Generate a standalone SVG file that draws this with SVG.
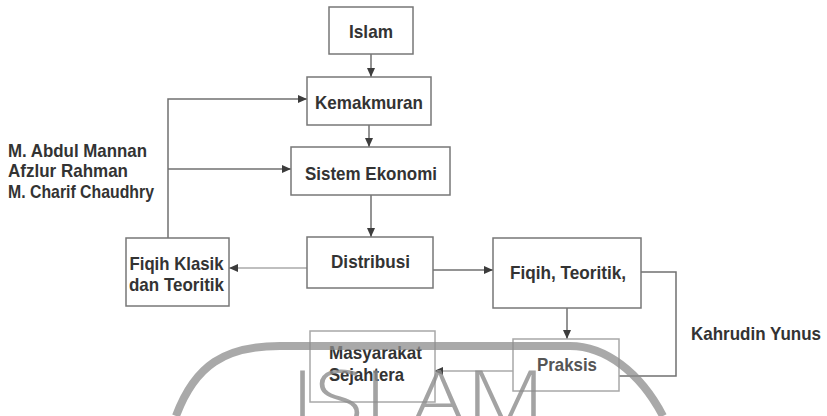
<svg xmlns="http://www.w3.org/2000/svg" width="827" height="416" viewBox="0 0 827 416">
  <defs>
    <style>
      .box { fill: #ffffff; stroke: #777777; stroke-width: 1.5; }
      .box-light { fill: #ffffff; stroke: #a8a8a8; stroke-width: 1.5; }
      .lbl { font-family: "Liberation Sans Narrow", "Arial Narrow", "Liberation Sans", Arial, sans-serif; font-weight: bold; font-size: 19px; fill: #333333; }
      .lbl-light { fill: #555555; }
      .conn { fill: none; stroke: #707070; stroke-width: 1.5; }
      .conn-light { fill: none; stroke: #aaaaaa; stroke-width: 1.5; }
      .wm { fill: none; stroke: #8c8c8c; stroke-width: 8; stroke-opacity: 0.75; }
      .wm-text { font-family: "Open Sans", "Lato", "Liberation Sans", sans-serif; font-weight: 300; font-size: 80px; fill: #8c8c8c; fill-opacity: 0.8; }
    </style>
    <marker id="arrow" markerUnits="userSpaceOnUse" markerWidth="9" markerHeight="8" refX="9" refY="4" orient="auto">
      <path d="M0,0 L9,4 L0,8 z" fill="#3c3c3c"/>
    </marker>
  </defs>

  <rect width="827" height="416" fill="#ffffff"/>

  <g id="connectors">
    <line class="conn" x1="371" y1="54" x2="371" y2="77" marker-end="url(#arrow)"/>
    <line class="conn" x1="369" y1="125" x2="369" y2="147" marker-end="url(#arrow)"/>
    <line class="conn" x1="371" y1="195" x2="371" y2="237" marker-end="url(#arrow)"/>
    <line class="conn-light" x1="307" y1="268" x2="229" y2="268" marker-end="url(#arrow)"/>
    <line class="conn" x1="433" y1="270" x2="493" y2="270" marker-end="url(#arrow)"/>
    <polyline class="conn" points="168,238 168,99 307,99" marker-end="url(#arrow)"/>
    <line class="conn" x1="168" y1="169" x2="291" y2="169" marker-end="url(#arrow)"/>
    <line class="conn" x1="567" y1="308" x2="567" y2="339" marker-end="url(#arrow)"/>
    <polyline class="conn" points="641,272 676,272 676,376 619,376"/>
    <line class="conn-light" x1="513" y1="371" x2="434" y2="371" marker-end="url(#arrow)"/>
  </g>

  <g id="node-islam">
    <rect class="box" x="329" y="7" width="84" height="47"/>
    <text class="lbl" x="371" y="38" text-anchor="middle" textLength="44" lengthAdjust="spacingAndGlyphs">Islam</text>
  </g>
  <g id="node-kemakmuran">
    <rect class="box" x="307" y="77" width="124" height="48"/>
    <text class="lbl" x="369" y="109" text-anchor="middle" textLength="108" lengthAdjust="spacingAndGlyphs">Kemakmuran</text>
  </g>
  <g id="node-sistem-ekonomi">
    <rect class="box" x="291" y="147" width="159" height="48"/>
    <text class="lbl" x="371" y="180" text-anchor="middle" textLength="132" lengthAdjust="spacingAndGlyphs">Sistem Ekonomi</text>
  </g>
  <g id="node-distribusi">
    <rect class="box" x="307" y="237" width="126" height="51"/>
    <text class="lbl" x="370.5" y="268" text-anchor="middle" textLength="79" lengthAdjust="spacingAndGlyphs">Distribusi</text>
  </g>
  <g id="node-fiqih-teoritik">
    <rect class="box" x="493" y="238" width="148" height="70"/>
    <text class="lbl" x="568" y="279" text-anchor="middle" textLength="116" lengthAdjust="spacingAndGlyphs">Fiqih, Teoritik,</text>
  </g>
  <g id="node-fiqih-klasik">
    <rect class="box" x="126" y="238" width="103" height="68"/>
    <text class="lbl" x="176.5" y="270" text-anchor="middle" textLength="94" lengthAdjust="spacingAndGlyphs">Fiqih Klasik</text>
    <text class="lbl" x="176.5" y="291" text-anchor="middle" textLength="95" lengthAdjust="spacingAndGlyphs">dan Teoritik</text>
  </g>
  <g id="node-masyarakat">
    <rect class="box-light" x="310" y="331" width="125" height="71"/>
    <text class="lbl" x="329" y="359" textLength="93" lengthAdjust="spacingAndGlyphs">Masyarakat</text>
    <text class="lbl" x="329" y="381" textLength="75" lengthAdjust="spacingAndGlyphs">Sejahtera</text>
  </g>
  <g id="node-praksis">
    <rect class="box-light" x="513" y="339" width="106" height="52"/>
    <text class="lbl lbl-light" x="567" y="371" text-anchor="middle" textLength="60" lengthAdjust="spacingAndGlyphs">Praksis</text>
  </g>

  <g id="label-authors">
    <text class="lbl" x="8" y="157" textLength="139" lengthAdjust="spacingAndGlyphs">M. Abdul Mannan</text>
    <text class="lbl" x="8" y="177" textLength="120" lengthAdjust="spacingAndGlyphs">Afzlur Rahman</text>
    <text class="lbl" x="8" y="198" textLength="146" lengthAdjust="spacingAndGlyphs">M. Charif Chaudhry</text>
  </g>
  <g id="label-kahrudin">
    <text class="lbl" x="691" y="340" textLength="130" lengthAdjust="spacingAndGlyphs">Kahrudin Yunus</text>
  </g>

  <g id="watermark">
    <path class="wm" d="M176,416 C195,365 225,346 280,346 L570,346 C605,346 640,372 663,416"/>
    <text class="wm-text" x="291" y="427" textLength="254" lengthAdjust="spacingAndGlyphs">ISLAM</text>
  </g>
</svg>
